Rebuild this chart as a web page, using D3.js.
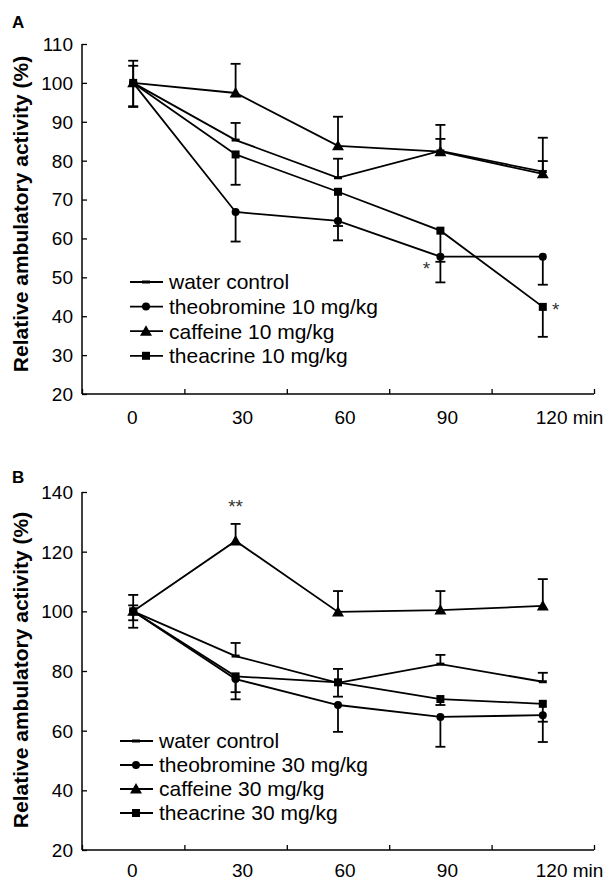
<!DOCTYPE html>
<html>
<head>
<meta charset="utf-8">
<script src="https://cdn.jsdelivr.net/npm/d3@7"></script>
<style>
  body { margin: 0; background: #fff; }
  text { font-family: "Liberation Sans", Arial, sans-serif; fill: #000; }
</style>
</head>
<body>
<div id="canvas"></div>
<script>
const times = [0, 30, 60, 90, 120];
const xTickLabels = ["0", "30", "60", "90", "120 min"];

// panel A (10 mg/kg)
const waterA = [100, 85.3, 75.6, 82.5, 77.2];
const waterAErr = [5.7, 4.4, 4.9, 3.1, 2.7];
const theobromineA = [100, 66.8, 64.5, 55.3, 55.3];
const theobromineAErr = [-6, -7.6, -5, -6.6, -7.2];
const caffeineA = [100, 97.4, 83.8, 82.3, 76.6];
const caffeineAErr = [4.4, 7.5, 7.5, 6.9, 9.3];
const theacrineA = [100, 81.6, 72.0, 62.0, 42.4];
const theacrineAErr = [-6.2, -7.8, -8.8, -8, -7.7];
const yTicksA = [20, 30, 40, 50, 60, 70, 80, 90, 100, 110];
const legendA = ["water control", "theobromine 10 mg/kg", "caffeine 10 mg/kg", "theacrine 10 mg/kg"];
const starsA = [{ t: 90, v: 50.5, s: "*", dx: -14 }, { t: 120, v: 40, s: "*", dx: 13 }];

// panel B (30 mg/kg)
const waterB = [100, 85, 76, 82.3, 76.4];
const waterBErr = [5.5, 4.4, 4.7, 3.1, 3];
const theobromineB = [100, 77.3, 68.6, 64.6, 65.2];
const theobromineBErr = [-5.5, -6.8, -9, -10, -9];
const caffeineB = [100, 123.6, 99.8, 100.4, 101.8];
const caffeineBErr = [-3, 5.7, 7, 6.4, 9];
const theacrineB = [100, 78.2, 76.2, 70.6, 69];
const theacrineBErr = [2, -5.3, -4.8, -2, -6];
const yTicksB = [20, 40, 60, 80, 100, 120, 140];
const legendB = ["water control", "theobromine 30 mg/kg", "caffeine 30 mg/kg", "theacrine 30 mg/kg"];
const starsB = [{ t: 30, v: 133, s: "**", dx: 0 }];

const width = 613;
const height = 882;
const markers = ["dash", "circle", "triangle", "square"];

const svg = d3.select("#canvas").append("svg")
  .attr("width", width)
  .attr("height", height);

const x = d3.scaleLinear().domain([-15, 135]).range([82, 594]);

function drawMarker(g, type, cx, cy) {
  if (type === "dash") {
    g.append("line").attr("x1", cx - 4).attr("x2", cx + 4)
      .attr("y1", cy).attr("y2", cy)
      .attr("stroke", "#000").attr("stroke-width", 3);
  } else if (type === "circle") {
    g.append("circle").attr("cx", cx).attr("cy", cy).attr("r", 4).attr("fill", "#000");
  } else {
    const sym = type === "triangle" ? d3.symbolTriangle : d3.symbolSquare;
    const size = type === "triangle" ? 62 : 64;
    g.append("path").attr("d", d3.symbol().type(sym).size(size)())
      .attr("transform", `translate(${cx},${cy + (type === "triangle" ? 1 : 0)})`)
      .attr("fill", "#000");
  }
}

function panel(opts) {
  const y = d3.scaleLinear().domain(opts.yDomain).range(opts.yRange);
  const g = svg.append("g");
  const bottom = opts.yRange[0];

  // axes
  g.append("g")
    .attr("transform", `translate(${x.range()[0]},0)`)
    .call(d3.axisRight(y).tickValues(opts.yTicks).tickSize(5).tickFormat(""))
    .call(a => a.select(".domain").attr("stroke-width", 1.5).attr("d", `M0,${opts.yRange[1]}V${bottom}`))
    .call(a => a.selectAll(".tick line").attr("stroke-width", 1.3));

  g.selectAll(".ylab").data(opts.yTicks).enter().append("text")
    .attr("x", 73).attr("y", d => y(d)).attr("dy", "0.36em")
    .attr("text-anchor", "end").style("font-size", "19px")
    .text(d => d);

  g.append("g")
    .attr("transform", `translate(0,${bottom})`)
    .call(d3.axisTop(x).tickValues([-15, 15, 45, 75, 105, 135]).tickSize(5).tickFormat(""))
    .call(a => a.select(".domain").attr("stroke-width", 1.5).attr("d", `M${x.range()[0]},0H${x.range()[1]}`))
    .call(a => a.selectAll(".tick line").attr("stroke-width", 1.3));

  g.selectAll(".xlab").data(times).enter().append("text")
    .attr("x", (d, i) => x(d) + (i === 0 ? -1 : i === 4 ? -7 : 7))
    .attr("y", opts.xLabelY)
    .attr("text-anchor", (d, i) => i === 4 ? "start" : "middle")
    .style("font-size", "19px")
    .text((d, i) => xTickLabels[i]);

  // titles
  g.append("text")
    .attr("transform", `translate(28,${opts.titleY}) rotate(-90)`)
    .attr("text-anchor", "middle")
    .style("font-size", "21px").style("font-weight", "bold")
    .text("Relative ambulatory activity (%)");

  g.append("text").attr("x", 12).attr("y", opts.letterY)
    .style("font-size", "17px").style("font-weight", "bold")
    .text(opts.letter);

  const line = d3.line().x((d, i) => x(times[i])).y(d => y(d));

  // lines
  opts.series.forEach(s => {
    g.append("path").datum(s.values)
      .attr("d", line).attr("fill", "none")
      .attr("stroke", "#000").attr("stroke-width", 1.8);
  });

  // error bars
  opts.series.forEach(s => {
    s.values.forEach((v, i) => {
      const cx = x(times[i]);
      const e = s.err[i];
      g.append("line").attr("x1", cx).attr("x2", cx)
        .attr("y1", y(v)).attr("y2", y(v + e))
        .attr("stroke", "#000").attr("stroke-width", 1.8);
      g.append("line").attr("x1", cx - 5).attr("x2", cx + 5)
        .attr("y1", y(v + e)).attr("y2", y(v + e))
        .attr("stroke", "#000").attr("stroke-width", 1.8);
    });
  });

  // markers
  opts.series.forEach((s, k) => {
    s.values.forEach((v, i) => drawMarker(g, markers[k], x(times[i]), y(v)));
  });

  // significance
  opts.stars.forEach(st => {
    g.append("text")
      .attr("x", x(st.t) + st.dx).attr("y", y(st.v))
      .attr("text-anchor", "middle")
      .style("font-size", "19px").style("fill", "#333")
      .text(st.s);
  });

  // legend
  const lg = g.append("g");
  opts.legend.forEach((name, k) => {
    const ly = opts.legendY + k * opts.legendStep;
    lg.append("line").attr("x1", opts.legendX).attr("x2", opts.legendX + 33)
      .attr("y1", ly).attr("y2", ly)
      .attr("stroke", "#000").attr("stroke-width", 1.8);
    drawMarker(lg, markers[k], opts.legendX + 16, ly);
    lg.append("text").attr("x", opts.legendX + 39).attr("y", ly).attr("dy", "0.35em")
      .style("font-size", "21px")
      .text(name);
  });
}

panel({
  letter: "A", letterY: 28,
  yDomain: [20, 110], yRange: [394, 44], yTicks: yTicksA,
  xLabelY: 424, titleY: 214,
  series: [
    { values: waterA, err: waterAErr },
    { values: theobromineA, err: theobromineAErr },
    { values: caffeineA, err: caffeineAErr },
    { values: theacrineA, err: theacrineAErr }
  ],
  stars: starsA,
  legend: legendA, legendX: 130, legendY: 282, legendStep: 24.6
});

panel({
  letter: "B", letterY: 483,
  yDomain: [20, 140], yRange: [850, 492], yTicks: yTicksB,
  xLabelY: 877, titleY: 670,
  series: [
    { values: waterB, err: waterBErr },
    { values: theobromineB, err: theobromineBErr },
    { values: caffeineB, err: caffeineBErr },
    { values: theacrineB, err: theacrineBErr }
  ],
  stars: starsB,
  legend: legendB, legendX: 120, legendY: 741, legendStep: 24
});
</script>
</body>
</html>
